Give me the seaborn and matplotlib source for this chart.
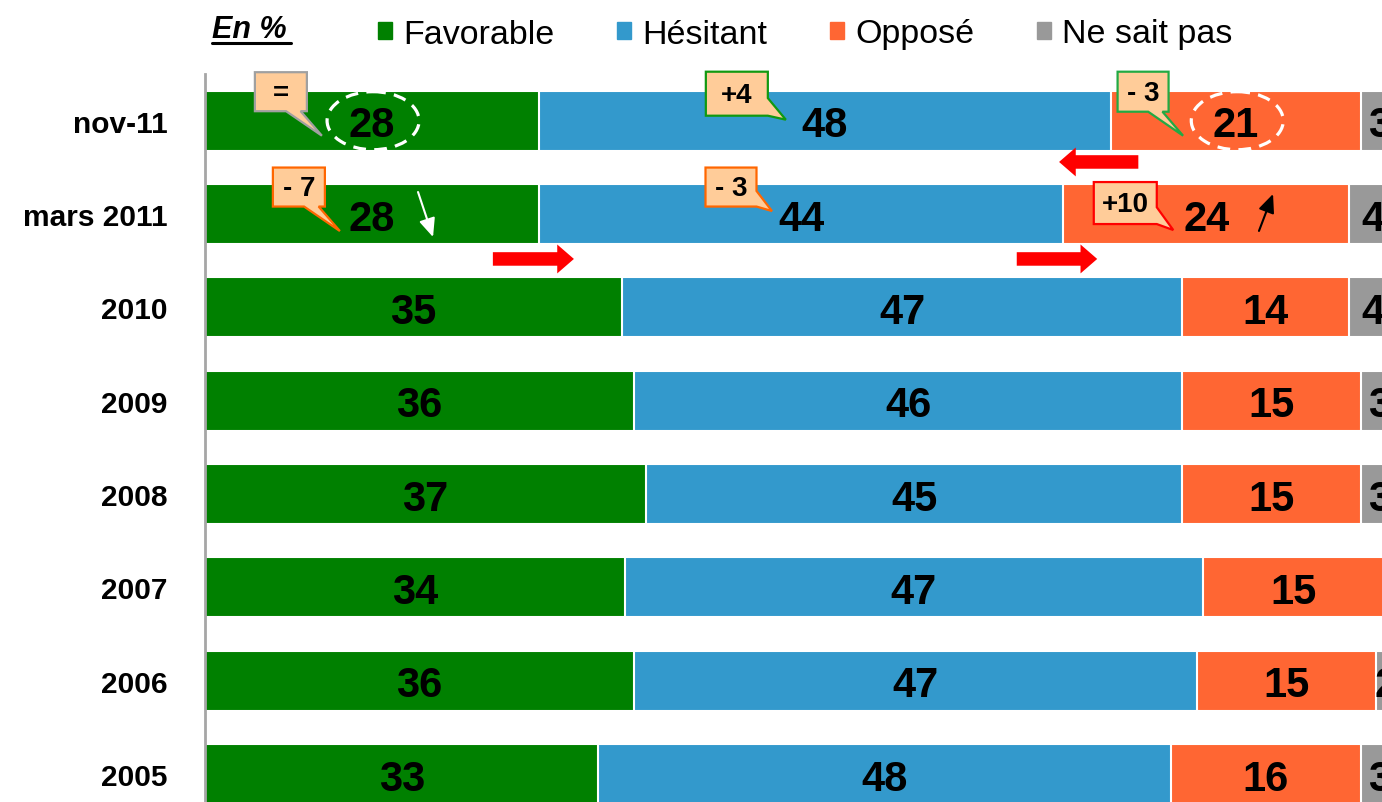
import matplotlib
matplotlib.use('Agg')
import matplotlib.pyplot as plt
from matplotlib.patches import Ellipse, Polygon, FancyArrow, Rectangle
from matplotlib.lines import Line2D
import seaborn as sns
import pandas as pd

# Données (en %)
categories = ['nov-11', 'mars 2011', '2010', '2009', '2008', '2007', '2006', '2005']
favorable = [28, 28, 35, 36, 37, 35.2, 36, 33]
hesitant = [48, 44, 47, 46, 45, 48.5, 47.2, 48]
oppose = [21, 24, 14, 15, 15, 15.3, 15, 16]
ne_sait_pas = [3, 4, 4, 3, 3, 1, 1.8, 3]

# valeurs affichées sur les barres
lab_favorable = ['28', '28', '35', '36', '37', '34', '36', '33']
lab_hesitant = ['48', '44', '47', '46', '45', '47', '47', '48']
lab_oppose = ['21', '24', '14', '15', '15', '15', '15', '16']
lab_nsp = ['3', '4', '4', '3', '3', '1', '2', '3']

series = ['Favorable', 'Hésitant', 'Opposé', 'Ne sait pas']
colors = ['#008000', '#3399CC', '#FF6633', '#999999']

# évolutions (ligne, série, texte, couleur du bord)
callouts = [
    (0, 0, '=', '#A0A0A0'),
    (0, 1, '+4', '#119911'),
    (0, 2, '- 3', '#22AA44'),
    (1, 0, '- 7', '#FF6600'),
    (1, 1, '- 3', '#FF6600'),
    (1, 2, '+10', '#FF0000'),
]
# géométrie des bulles en pixels : centre boîte (dx, dy), taille (w, h), pointe (dx, dy), côté
callout_geom = [
    (-91, -29, 52, 39, -50, 15, 'bottom'),
    (-88, -27, 62, 44, -39, -1, 'right'),
    (-93, -29, 51, 40, -53, 15, 'bottom'),
    (-73, -27, 52, 39, -32, 17, 'bottom'),
    (-70, -27, 51, 39, -29, -3, 'right'),
    (-81, -11, 63, 42, -33, 16, 'right'),
]

df = pd.DataFrame({'categorie': categories, 'Favorable': favorable, 'Hésitant': hesitant,
                   'Opposé': oppose, 'Ne sait pas': ne_sait_pas})
cum = df[series].cumsum(axis=1)
start = cum - df[series]
labels = [lab_favorable, lab_hesitant, lab_oppose, lab_nsp]

sns.set_style('white')
plt.rcParams['font.family'] = ['Liberation Sans', 'DejaVu Sans']
plt.rcParams['text.color'] = 'black'
plt.rcParams['ytick.color'] = 'black'
plt.rcParams['legend.labelcolor'] = 'black'

fig = plt.figure(figsize=(13.82, 8.03), dpi=100)
px_x = 11.92   # pixels par point de %
px_y = 93.35   # pixels par ligne
ax = fig.add_axes([205 / 1382, 0, 100 * px_x / 1382, 1])

# barres empilées : on trace les cumuls du plus grand au plus petit
for k in range(len(series) - 1, -1, -1):
    sns.barplot(x=cum[series[k]].values, y=df['categorie'], orient='h', color=colors[k],
                saturation=1, width=0.643, edgecolor='white', linewidth=1.5,
                errorbar=None, ax=ax)

ax.set_xlim(0, 100)
ax.set_ylim((803 - 121.7) / px_y, -121.7 / px_y)

# valeurs dans les barres
for k in range(len(series)):
    for r in range(len(categories)):
        cx = start[series[k]][r] + df[series[k]][r] / 2
        ax.text(cx, r + 0.05, labels[k][r], ha='center', va='center',
                fontsize=30, fontweight='bold', color='black', zorder=6)

# bulles d'évolution
for (r, k, txt, ec), (bx, by, w, h, tx, ty, side) in zip(callouts, callout_geom):
    cx = start[series[k]][r] + df[series[k]][r] / 2

    def to_data(px, py):
        return (cx + (bx + px) / px_x, r + (by + py) / px_y)

    hw, hh = w / 2, h / 2
    tip = (tx - bx, ty - by)
    if side == 'right':
        pts = [(-hw, -hh), (hw, -hh), (hw, -hh + 0.6 * h), tip, (hw, hh), (-hw, hh)]
    else:
        pts = [(-hw, -hh), (hw, -hh), (hw, hh), (-hw + 0.88 * w, hh), tip,
               (-hw + 0.6 * w, hh), (-hw, hh)]
    poly = Polygon([to_data(*p) for p in pts], closed=True, fc='#FFCC99', ec=ec,
                   lw=1.6, zorder=7)
    ax.add_patch(poly)
    ax.text(*to_data(0, 1), txt, ha='center', va='center', fontsize=20,
            fontweight='bold', zorder=8)

# ellipses pointillées autour des valeurs de nov-11
for k in [0, 2]:
    cx = start[series[k]][0] + df[series[k]][0] / 2
    ax.add_patch(Ellipse((cx + 0.1, 0.0), width=92 / px_x, height=58 / px_y, fill=False,
                         ec='white', lw=2.3, ls=(0, (4, 2.6)), zorder=5))

# flèches rouges
red_arrows = [(78.3, 0.442, -6.65), (24.15, 1.481, 6.8), (68.1, 1.481, 6.75)]
for x0, y0, dx in red_arrows:
    ax.add_patch(FancyArrow(x0, y0, dx, 0, width=0.145, head_width=0.31, head_length=1.4,
                            length_includes_head=True, color='red', lw=0, zorder=6))

# petites flèches de tendance (mars 2011)
small_arrows = [((17.87, 0.764), (19.13, 1.246), 'white'),
                ((88.42, 1.181), (89.6, 0.785), 'black')]
for tail, tip, c in small_arrows:
    ax.annotate('', xy=tip, xytext=tail,
                arrowprops=dict(arrowstyle='-|>,head_length=0.8,head_width=0.35', color=c,
                                lw=1.5, mutation_scale=14, shrinkA=0, shrinkB=0), zorder=6)

# axes
for s in ['top', 'right', 'bottom']:
    ax.spines[s].set_visible(False)
ax.spines['left'].set_color('#A6A6A6')
ax.spines['left'].set_linewidth(2)
ax.spines['left'].set_bounds(-0.5, (803 - 121.7) / px_y)
ax.set_xticks([])
ax.set_xlabel('')
ax.set_ylabel('')
ax.tick_params(axis='y', length=0, pad=27, labelsize=21.5, labelcolor='black')
for t in ax.get_yticklabels():
    t.set_fontweight('bold')

# légende
handles = [Rectangle((0, 0), 1, 1, color=c) for c in colors]
fig.legend(handles, series, loc='center left', bbox_to_anchor=(378 / 1382, 1 - 35 / 803),
           ncol=4, frameon=False, fontsize=24.5, handlelength=0.42, handleheight=0.42,
           handletextpad=0.33, columnspacing=1.83, borderpad=0, borderaxespad=0)

fig.text(212 / 1382, 1 - 30 / 803, 'En %', fontsize=22, fontweight='bold',
         fontstyle='italic', va='center', ha='left')
fig.add_artist(Line2D([212 / 1382, 291 / 1382], [1 - 44 / 803, 1 - 44 / 803],
                      color='black', lw=2.2))

fig.savefig('out.png', dpi=100)
